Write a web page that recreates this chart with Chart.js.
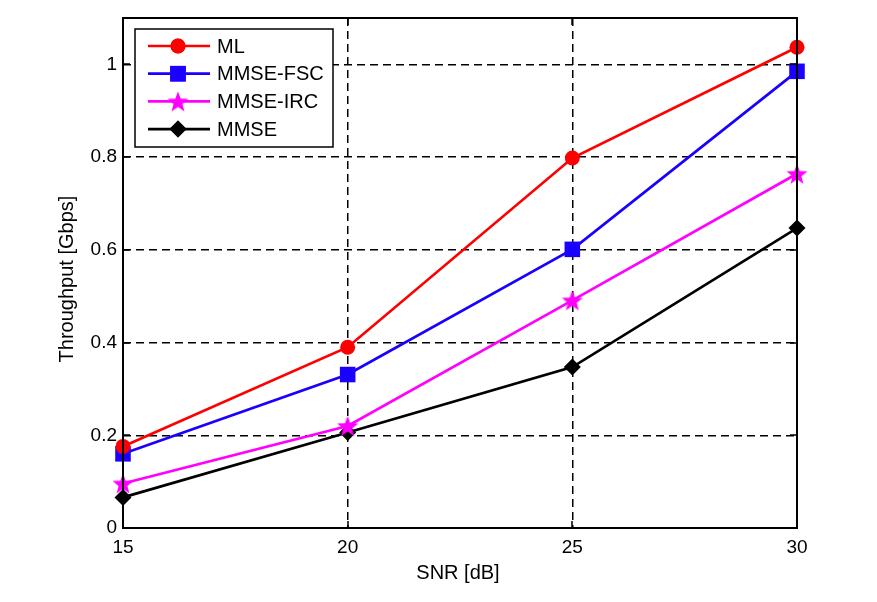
<!DOCTYPE html>
<html>
<head>
<meta charset="utf-8">
<script src="https://cdn.jsdelivr.net/npm/chart.js@4"></script>
<style>
  html, body { margin: 0; padding: 0; background: #fff; }
  #wrap { width: 877px; height: 602px; }
</style>
</head>
<body>
<div id="wrap"><canvas id="chart" width="877" height="602"></canvas></div>
<script>
const snr = [15, 20, 25, 30];
const seriesNames = ["ML", "MMSE-FSC", "MMSE-IRC", "MMSE"];
const mlValues = [0.176, 0.39, 0.798, 1.037];
const fscValues = [0.16, 0.331, 0.601, 0.985];
const ircValues = [0.096, 0.22, 0.491, 0.764];
const mmseValues = [0.066, 0.206, 0.347, 0.647];
const yTicks = [0, 0.2, 0.4, 0.6, 0.8, 1];
const xTicks = [15, 20, 25, 30];
const xTitle = "SNR [dB]";
const yTitle = "Throughput [Gbps]";

const FONT = "'Liberation Sans', Arial, sans-serif";

function makeStar(color, r) {
  const c = document.createElement("canvas");
  const size = Math.ceil(r * 2 + 2);
  c.width = size;
  c.height = size;
  const g = c.getContext("2d");
  const cx = size / 2, cy = size / 2 + 1;
  g.beginPath();
  for (let i = 0; i < 10; i++) {
    const rad = i % 2 === 0 ? r : r * 0.42;
    const a = -Math.PI / 2 + (i * Math.PI) / 5;
    const px = cx + rad * Math.cos(a);
    const py = cy + rad * Math.sin(a);
    if (i === 0) g.moveTo(px, py);
    else g.lineTo(px, py);
  }
  g.closePath();
  g.fillStyle = color;
  g.fill();
  return c;
}

const starImg = makeStar("#ff00ff", 11);

function pts(values) {
  return snr.map((x, i) => ({ x, y: values[i] }));
}

const styles = [
  { color: "#ff0000", pointStyle: "circle", radius: 7.5 },
  { color: "#1a00ff", pointStyle: "rect", radius: 11 },
  { color: "#ff00ff", pointStyle: starImg, radius: 11 },
  { color: "#000000", pointStyle: "rectRot", radius: 8.5 },
];
const allValues = [mlValues, fscValues, ircValues, mmseValues];

const datasets = seriesNames.map((name, i) => ({
  label: name,
  data: pts(allValues[i]),
  borderColor: styles[i].color,
  backgroundColor: styles[i].color,
  pointBackgroundColor: styles[i].color,
  pointBorderColor: styles[i].color,
  pointBorderWidth: 0,
  pointStyle: styles[i].pointStyle,
  pointRadius: styles[i].radius,
  borderWidth: 2.7,
  tension: 0,
  clip: false,
}));

// box, inward ticks, titles and legend in MATLAB style
const frame = {
  id: "frame",
  afterDatasetsDraw(chart) {
    const { ctx, chartArea: a, scales } = chart;
    ctx.save();
    ctx.strokeStyle = "#000";
    ctx.lineWidth = 2;
    ctx.strokeRect(a.left, a.top, a.right - a.left, a.bottom - a.top);

    ctx.lineWidth = 1.5;
    ctx.beginPath();
    yTicks.forEach((v) => {
      const y = Math.round(scales.y.getPixelForValue(v));
      ctx.moveTo(a.left, y);
      ctx.lineTo(a.left + 7, y);
      ctx.moveTo(a.right, y);
      ctx.lineTo(a.right - 7, y);
    });
    xTicks.forEach((v) => {
      const x = Math.round(scales.x.getPixelForValue(v));
      ctx.moveTo(x, a.bottom);
      ctx.lineTo(x, a.bottom - 7);
      ctx.moveTo(x, a.top);
      ctx.lineTo(x, a.top + 7);
    });
    ctx.stroke();

    // axis titles
    ctx.fillStyle = "#000";
    ctx.font = "20px " + FONT;
    ctx.textAlign = "center";
    ctx.textBaseline = "middle";
    ctx.fillText(xTitle, 458, 573);
    ctx.translate(67, 279);
    ctx.rotate(-Math.PI / 2);
    ctx.fillText(yTitle, 0, 0);
    ctx.setTransform(1, 0, 0, 1, 0, 0);

    // legend
    const lx = 135, ly = 29, lw = 198, lh = 118;
    ctx.fillStyle = "#fff";
    ctx.fillRect(lx, ly, lw, lh);
    ctx.lineWidth = 1.5;
    ctx.strokeRect(lx, ly, lw, lh);
    ctx.font = "20px " + FONT;
    ctx.textAlign = "left";
    ctx.textBaseline = "middle";
    chart.data.datasets.forEach((ds, i) => {
      const y = 46 + i * 27.7;
      ctx.strokeStyle = ds.borderColor;
      ctx.lineWidth = 2.7;
      ctx.beginPath();
      ctx.moveTo(148, y);
      ctx.lineTo(210, y);
      ctx.stroke();
      ctx.fillStyle = ds.borderColor;
      Chart.helpers.drawPoint(ctx, {
        pointStyle: ds.pointStyle,
        radius: ds.pointRadius,
        rotation: 0,
        borderWidth: 0,
      }, 178, y);
      ctx.fill();
      ctx.fillStyle = "#000";
      ctx.fillText(ds.label, 217, y + 1);
    });
    ctx.restore();
  },
};

new Chart(document.getElementById("chart"), {
  type: "line",
  data: { datasets },
  options: {
    responsive: false,
    animation: false,
    layout: { padding: { top: 18, right: 80, left: 0, bottom: 0 } },
    plugins: {
      legend: { display: false },
      tooltip: { enabled: false },
    },
    scales: {
      x: {
        type: "linear",
        min: 15,
        max: 30,
        afterBuildTicks(s) {
          s.ticks = xTicks.map((v) => ({ value: v }));
        },
        afterFit(s) {
          s.height = 74;
        },
        grid: {
          color: "#000",
          lineWidth: 1.5,
          drawTicks: false,
        },
        border: { display: false, dash: [8, 5] },
        ticks: {
          color: "#000",
          padding: 8,
          font: { family: FONT, size: 19 },
        },
      },
      y: {
        type: "linear",
        min: 0,
        max: 1.1,
        afterBuildTicks(s) {
          s.ticks = yTicks.map((v) => ({ value: v }));
        },
        afterFit(s) {
          s.width = 123;
        },
        grid: {
          color: "#000",
          lineWidth: 1.5,
          drawTicks: false,
        },
        border: { display: false, dash: [8, 5] },
        ticks: {
          color: "#000",
          padding: 6,
          callback: (v) => String(Math.round(v * 10) / 10),
          font: { family: FONT, size: 19 },
        },
      },
    },
  },
  plugins: [frame],
});
</script>
</body>
</html>
